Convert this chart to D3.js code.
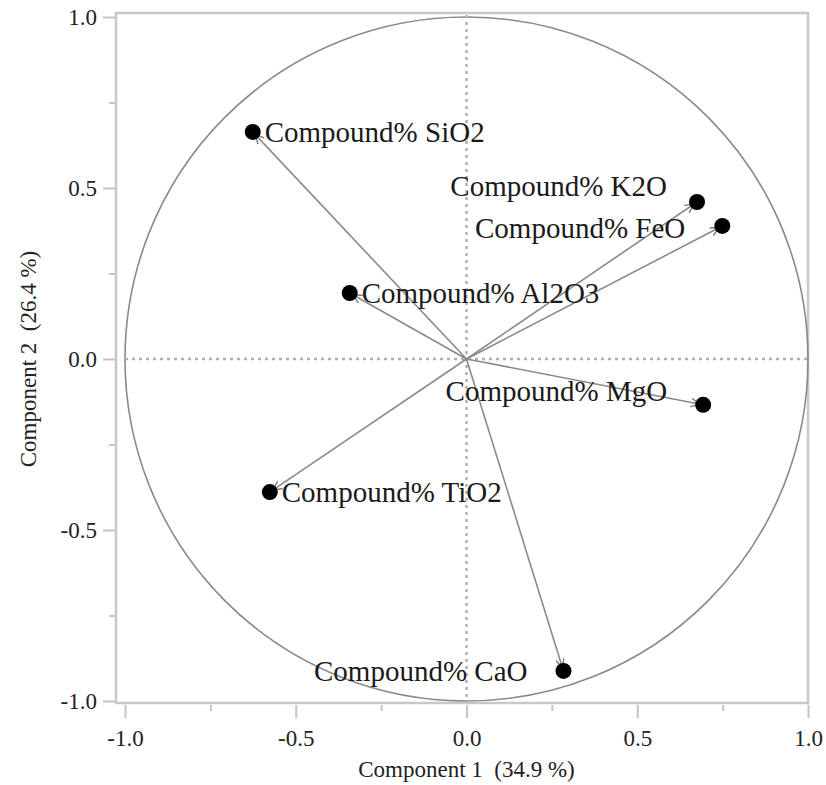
<!DOCTYPE html>
<html>
<head>
<meta charset="utf-8">
<style>
    body { margin: 0; background: #fff; }
    svg { display: block; font-family: "Liberation Serif", "Times New Roman", serif; }
    .axis .domain { display: none; }
    .axis .tick line { stroke: #c4c4c4; stroke-width: 2px; }
    .label { font-size: 29px; fill: #1a1a1a; }
    .title { font-size: 23px; fill: #222; }
</style>
</head>
<body>
<svg width="826" height="785"></svg>
<script src="https://d3js.org/d3.v7.min.js"></script>
<script>
    // loadings
    const compounds = ["SiO2", "K2O", "FeO", "Al2O3", "MgO", "TiO2", "CaO"]
    const comp1 = [-0.626, 0.675, 0.749, -0.342, 0.693, -0.576, 0.284]
    const comp2 = [0.664, 0.459, 0.389, 0.193, -0.134, -0.389, -0.912]
    const majorTicks = [-1.0, -0.5, 0.0, 0.5, 1.0]
    const minorTicks = [-0.75, -0.25, 0.25, 0.75]

    const svg = d3.select("svg")

    const x = d3.scaleLinear().domain([-1, 1]).range([125, 808])
    const y = d3.scaleLinear().domain([-1, 1]).range([701, 17])

    const fmt = d => d3.format(".1f")(d).replace("\u2212", "-")

    // label placement: anchor side, dx, dy (pixels)
    const place = {
        SiO2: ["start", 12, 10],
        K2O: ["end", -30, -6],
        FeO: ["end", -37, 12],
        Al2O3: ["start", 12, 10],
        MgO: ["end", -36, -4],
        TiO2: ["start", 12, 10],
        CaO: ["end", -36, 10]
    }

    // frame
    svg.append("rect")
        .attr("x", 116).attr("y", 13)
        .attr("width", 808 - 116).attr("height", 703 - 13)
        .style("fill", "none")
        .style("stroke", "#c8c8c8")
        .style("stroke-width", 2.5)

    // axes
    let xAxis = svg.append("g")
        .attr("class", "axis")
        .attr("transform", "translate(0,705)")
        .call(d3.axisBottom(x).tickValues(majorTicks).tickSize(13).tickPadding(12).tickFormat(fmt))
    svg.append("g")
        .attr("class", "axis")
        .attr("transform", "translate(0,705)")
        .call(d3.axisBottom(x).tickValues(minorTicks).tickSize(6).tickFormat(""))
    let yAxis = svg.append("g")
        .attr("class", "axis")
        .attr("transform", "translate(115,0)")
        .call(d3.axisLeft(y).tickValues(majorTicks).tickSize(12).tickPadding(6).tickFormat(fmt))
    svg.append("g")
        .attr("class", "axis")
        .attr("transform", "translate(115,0)")
        .call(d3.axisLeft(y).tickValues(minorTicks).tickSize(6).tickFormat(""))

    svg.selectAll(".axis")
        .attr("font-family", "Liberation Serif, serif")
        .selectAll(".tick text")
        .style("font-family", "'Liberation Serif', serif")
        .style("font-size", "23px")
        .style("fill", "#222")

    // unit circle
    svg.append("ellipse")
        .attr("cx", x(0)).attr("cy", y(0))
        .attr("rx", x(1) - x(0)).attr("ry", y(0) - y(1))
        .style("fill", "none")
        .style("stroke", "#8a8a8a")
        .style("stroke-width", 1.6)

    // zero reference lines
    svg.append("line")
        .attr("x1", x(-1)).attr("x2", x(1))
        .attr("y1", y(0)).attr("y2", y(0))
        .style("stroke", "#b0b0b0").style("stroke-width", 2.5)
        .style("stroke-dasharray", "3,4")
    svg.append("line")
        .attr("x1", x(0)).attr("x2", x(0))
        .attr("y1", 15).attr("y2", 701)
        .style("stroke", "#b0b0b0").style("stroke-width", 2.5)
        .style("stroke-dasharray", "3,4")

    svg.append("defs").append("marker")
        .attr("id", "arrow")
        .attr("viewBox", "0 0 10 10")
        .attr("refX", 14).attr("refY", 5)
        .attr("markerWidth", 9).attr("markerHeight", 9)
        .attr("markerUnits", "userSpaceOnUse")
        .attr("orient", "auto")
        .append("path")
        .attr("d", "M0,0 L10,5 L0,10")
        .style("fill", "none")
        .style("stroke", "#777")
        .style("stroke-width", 1.5)

    const data = compounds.map((c, i) => ({ name: c, x: comp1[i], y: comp2[i] }))

    // loading vectors
    svg.append("g")
        .selectAll("line")
        .data(data)
        .join("line")
        .attr("x1", x(0)).attr("y1", y(0))
        .attr("x2", d => x(d.x)).attr("y2", d => y(d.y))
        .style("stroke", "#8a8a8a")
        .style("stroke-width", 1.6)
        .attr("marker-end", "url(#arrow)")

    svg.append("g")
        .selectAll("circle")
        .data(data)
        .join("circle")
        .attr("cx", d => x(d.x)).attr("cy", d => y(d.y))
        .attr("r", 8)
        .style("fill", "#000")

    svg.append("g")
        .selectAll("text")
        .data(data)
        .join("text")
        .attr("class", "label")
        .attr("x", d => x(d.x) + place[d.name][1])
        .attr("y", d => y(d.y) + place[d.name][2])
        .attr("text-anchor", d => place[d.name][0])
        .text(d => "Compound% " + d.name)

    // axis titles
    svg.append("text")
        .attr("class", "title")
        .attr("x", x(0)).attr("y", 777)
        .attr("text-anchor", "middle")
        .attr("xml:space", "preserve")
        .text("Component 1  (34.9 %)")
    svg.append("text")
        .attr("class", "title")
        .attr("transform", `translate(36,${y(0)}) rotate(-90)`)
        .attr("text-anchor", "middle")
        .attr("xml:space", "preserve")
        .text("Component 2  (26.4 %)")
</script>
</body>
</html>
